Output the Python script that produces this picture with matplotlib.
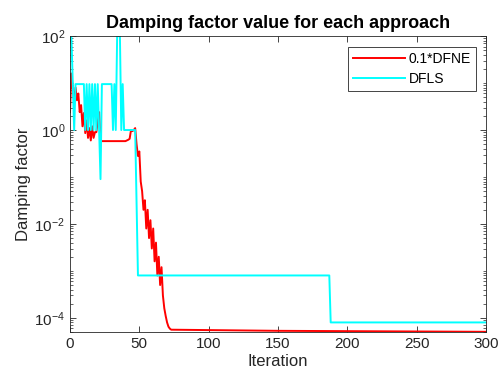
import matplotlib
matplotlib.use('Agg')
import matplotlib.pyplot as plt
from matplotlib.ticker import LogLocator, NullFormatter
import numpy as np

plt.rcParams['font.family'] = ['Liberation Sans', 'DejaVu Sans']
plt.rcParams['mathtext.fontset'] = 'custom'
plt.rcParams['mathtext.rm'] = 'Liberation Sans'
plt.rcParams['mathtext.it'] = 'Liberation Sans:italic'
plt.rcParams['mathtext.bf'] = 'Liberation Sans:bold'

# 0.1*DFNE damping factor (iteration, value)
dfne_iter = list(range(0, 74)) + [150, 300]
dfne_val = [2.4, 16, 8, 4, 8, 4.3, 6, 2.4, 3.4, 1.2,
            2.3, 0.86, 1.6, 0.68, 1.1, 0.6, 1.2, 0.68, 0.9, 0.9,
            1.5, 2.4, 0.6, 0.58, 0.58, 0.58, 0.58, 0.58, 0.58, 0.58,
            0.58, 0.58, 0.58, 0.58, 0.58, 0.58, 0.58, 0.58, 0.58, 0.58,
            0.58, 0.6, 0.62, 0.65, 1.0, 0.95, 1.0, 1.1, 0.5, 0.28,
            0.35, 0.08, 0.05, 0.02, 0.032, 0.008, 0.02, 0.005, 0.012, 0.003,
            0.008, 0.0016, 0.004, 0.0008, 0.002, 0.0005, 0.0012, 0.0003, 0.00016, 0.00011,
            8e-5, 6.5e-5, 5.9e-5, 5.6e-5,
            5.3e-5, 5.05e-5]

# DFLS damping factor (iteration, value)
dfls_iter = [0, 1, 2, 3, 4, 10, 11, 12, 13, 14, 15, 16, 17, 18, 19, 20, 21, 22, 23,
             30, 31, 32, 33, 34, 36, 37, 38, 39, 47, 49, 187, 188, 300]
dfls_val = [100, 100, 10, 1.0, 9.5, 9.5, 1.0, 9.5, 1.0, 9.5, 1.0, 9.5, 1.0, 9.5, 1.0,
            9.5, 1.0, 0.09, 9.5,
            9.5, 1.0, 9.5, 1.0, 100, 100, 1.0, 9.5, 1.0, 1.0, 8e-4, 8e-4, 8e-5, 8e-5]

gray = '#262626'

fig = plt.figure(figsize=(5, 3.84), dpi=100)
ax = fig.add_axes([0.14, 0.1354, 0.832, 0.7706])

ax.semilogy(dfne_iter, dfne_val, color='red', lw=1.4, label='0.1*DFNE')
ax.semilogy(dfls_iter, dfls_val, color='cyan', lw=1.4, label='DFLS')

ax.set_xlim(0, 300)
ax.set_ylim(5e-5, 100)
ax.set_xticks(np.arange(0, 301, 50))
ax.set_yticks([1e-4, 1e-2, 1, 1e2])
ax.yaxis.set_minor_locator(LogLocator(base=10, subs=np.arange(1, 10), numticks=20))
ax.yaxis.set_minor_formatter(NullFormatter())

ax.tick_params(which='both', direction='in', top=True, right=True,
               colors=gray, labelsize=11)
ax.tick_params(which='major', length=4, width=0.6)
ax.tick_params(which='minor', length=2, width=0.5)
for s in ax.spines.values():
    s.set_color(gray)
    s.set_linewidth(0.6)

ax.set_xlabel('Iteration', fontsize=12, color=gray, labelpad=2)
ax.set_ylabel('Damping factor', fontsize=12, color=gray, labelpad=2)
ax.set_title('Damping factor value for each approach', fontsize=13,
             fontweight='bold', pad=6)

leg = ax.legend(loc='upper right', bbox_to_anchor=(0.976, 0.963), fontsize=10,
                fancybox=False, framealpha=1, edgecolor=gray,
                handlelength=3.8, handletextpad=0.25, labelspacing=0.45,
                borderpad=0.35, borderaxespad=0)
leg.get_frame().set_linewidth(0.6)

fig.savefig('out.png', dpi=100)
